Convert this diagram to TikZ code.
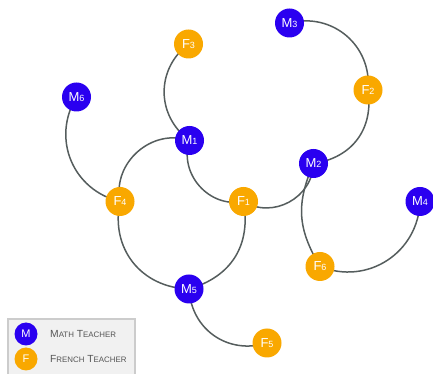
\documentclass[tikz,border=0pt]{standalone}
\usepackage{fontspec}
\setmainfont{Liberation Sans}
\usetikzlibrary{backgrounds}
\definecolor{mblue}{HTML}{2A00F0}
\definecolor{forange}{HTML}{F9A800}
\definecolor{edgegray}{HTML}{555D5D}
\definecolor{legfill}{HTML}{F1F1F1}
\definecolor{legdraw}{HTML}{CCCCCC}
\definecolor{legtext}{HTML}{555555}
\newcommand{\nlbl}[2]{{\fontsize{13}{13}\selectfont #1}{\fontsize{9}{9}\selectfont #2}}
\newcommand{\fsc}[2]{{\fontsize{10.3}{10.3}\selectfont #1}{\fontsize{7.9}{7.9}\selectfont #2}}
\tikzset{
  person/.style={circle, minimum size=29pt, inner sep=0pt, text=white},
  mnode/.style={person, fill=mblue},
  fnode/.style={person, fill=forange},
  legm/.style={circle, minimum size=23pt, inner sep=0pt, text=white, fill=mblue, font=\fontsize{11}{11}\selectfont},
  legf/.style={circle, minimum size=23pt, inner sep=0pt, text=white, fill=forange, font=\fontsize{11}{11}\selectfont},
  link/.style={draw=edgegray, line width=1.5pt, looseness=1.1},
  legtxt/.style={anchor=west, text=legtext, inner sep=0pt}
}
\begin{document}
\begin{tikzpicture}[x=1pt,y=1pt]
\useasboundingbox (0,0) rectangle (433,374);
% legend
\draw[fill=legfill, draw=legdraw, line width=1.2pt] (8,-5) rectangle (135,55);
\node[legm] (lm) at (26,40) {M};
\node[legf] (lf) at (26,15) {F};
\node[legtxt] (lmt) at (50,40) {\fsc{M}{ATH} \fsc{T}{EACHER}};
\node[legtxt] (lft) at (50,15) {\fsc{F}{RENCH} \fsc{T}{EACHER}};
% nodes
\node[mnode] (M3) at (289.5,351) {\nlbl{M}{3}};
\node[fnode] (F2) at (368,284) {\nlbl{F}{2}};
\node[fnode] (F3) at (188.5,330) {\nlbl{F}{3}};
\node[mnode] (M6) at (76.5,277) {\nlbl{M}{6}};
\node[mnode] (M1) at (189.5,233.5) {\nlbl{M}{1}};
\node[mnode] (M2) at (313.5,210.5) {\nlbl{M}{2}};
\node[fnode] (F4) at (120,172.5) {\nlbl{F}{4}};
\node[fnode] (F1) at (243.5,172.5) {\nlbl{F}{1}};
\node[mnode] (M4) at (420,172.5) {\nlbl{M}{4}};
\node[fnode] (F6) at (320,107.5) {\nlbl{F}{6}};
\node[mnode] (M5) at (189,85) {\nlbl{M}{5}};
\node[fnode] (F5) at (267,31) {\nlbl{F}{5}};
% links
\begin{scope}[on background layer]
\draw[link] (M3.center) to[bend left=55] (F2.center);
\draw[link] (F2.center) to[bend left=45] (M2.center);
\draw[link] (F3.center) to[bend right=53] (M1.center);
\draw[link] (M6.center) to[bend right=54] (F4.center);
\draw[link] (M1.center) to[bend right=60] (F4.center);
\draw[link] (M1.center) to[bend right=60] (F1.center);
\draw[link] (F1.center) to[bend right=60] (M2.center);
\draw[link] (M2.center) to[bend right=27] (F6.center);
\draw[link] (F6.center) to[bend right=55] (M4.center);
\draw[link] (F4.center) to[bend right=50] (M5.center);
\draw[link] (F1.center) to[bend left=42] (M5.center);
\draw[link] (M5.center) to[bend right=52] (F5.center);
\end{scope}
\end{tikzpicture}
\end{document}
